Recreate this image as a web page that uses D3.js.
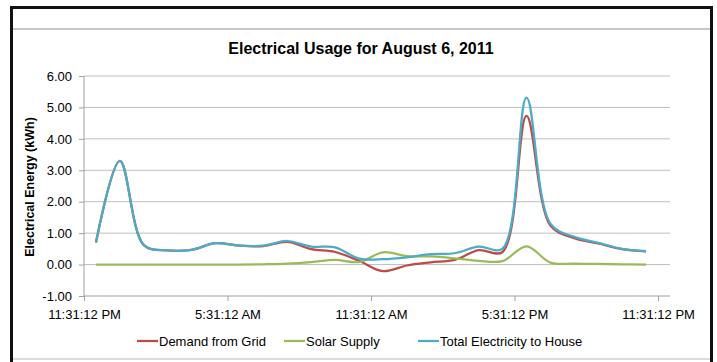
<!DOCTYPE html>
<html>
<head>
<meta charset="utf-8">
<script src="https://cdn.jsdelivr.net/npm/d3@7"></script>
<style>
  html, body { margin: 0; padding: 0; background: #fff; }
  svg { display: block; }
  text { font-family: "Liberation Sans", Arial, sans-serif; fill: #000; }
</style>
</head>
<body>
<svg id="chart" width="717" height="362"></svg>
<script>
// ---- data ----
const title = "Electrical Usage for August 6, 2011";
const yTitle = "Electrical Energy (kWh)";
// hours after 11:31:12 PM for each reading
const hourOffsets = [0.5, 1.5, 2.5, 3.5, 4.5, 5.5, 6.5, 7.5, 8.5, 9.5, 10.5, 11.5,
                     12.5, 13.5, 14.5, 15.5, 16.5, 17.5, 18.5, 19.5, 20.5, 21.5, 22.5, 23.5];
const demandFromGrid = [0.70, 3.30, 0.62, 0.45, 0.47, 0.68, 0.60, 0.59, 0.72, 0.49, 0.40, 0.12,
                        -0.21, -0.03, 0.07, 0.15, 0.46, 0.40, 4.73, 1.24, 0.84, 0.67, 0.49, 0.42];
const solarSupply = [0.00, 0.00, 0.00, 0.00, 0.00, 0.00, 0.00, 0.01, 0.03, 0.08, 0.15, 0.08,
                     0.39, 0.27, 0.26, 0.20, 0.12, 0.11, 0.58, 0.06, 0.03, 0.02, 0.01, 0.00];
const totalToHouse = [0.70, 3.30, 0.62, 0.45, 0.47, 0.68, 0.60, 0.60, 0.75, 0.57, 0.55, 0.19,
                      0.17, 0.23, 0.33, 0.36, 0.57, 0.51, 5.31, 1.30, 0.88, 0.69, 0.50, 0.43];
const xTickHours = [0, 6, 12, 18, 24];
const xTickLabels = ["11:31:12 PM", "5:31:12 AM", "11:31:12 AM", "5:31:12 PM", "11:31:12 PM"];
const yTicks = [-1, 0, 1, 2, 3, 4, 5, 6];
const seriesNames = ["Demand from Grid", "Solar Supply", "Total Electricity to House"];
const seriesColors = ["#BE4B48", "#9BBB59", "#4BACC6"];
const seriesData = [demandFromGrid, solarSupply, totalToHouse];

// ---- layout ----
const svg = d3.select("#chart");
const plot = { left: 84, right: 670, top: 76, bottom: 296 };

// frame
svg.append("rect").attr("x", 0).attr("y", 0).attr("width", 717).attr("height", 362).attr("fill", "#fff");
svg.append("line").attr("x1", 13).attr("x2", 710).attr("y1", 29).attr("y2", 29)
  .attr("stroke", "#c8c8c8").attr("stroke-width", 2);
svg.append("line").attr("x1", 13).attr("x2", 710).attr("y1", 359).attr("y2", 359)
  .attr("stroke", "#d0d0d0").attr("stroke-width", 1.5);
svg.append("path").attr("d", "M11.5,362 V7.5 H711.5 V362")
  .attr("fill", "none").attr("stroke", "#111").attr("stroke-width", 3);

const x = d3.scaleLinear().domain([0, 24.5]).range([plot.left, plot.right]);
const y = d3.scaleLinear().domain([-1, 6]).range([plot.bottom, plot.top]);

// gridlines
svg.append("g").selectAll("line").data(yTicks.filter(d => d !== -1)).join("line")
  .attr("x1", plot.left).attr("x2", plot.right)
  .attr("y1", d => y(d)).attr("y2", d => y(d))
  .attr("stroke", "#bfbfbf").attr("stroke-width", 1);

// y axis
const yAxis = d3.axisLeft(y).tickValues(yTicks).tickFormat(d3.format(".2f")).tickSize(5).tickPadding(7);
const gy = svg.append("g").attr("transform", `translate(${plot.left},0)`).call(yAxis);
gy.select(".domain").attr("stroke", "#a0a0a0").attr("d", `M0,${plot.top}V${plot.bottom}`);
gy.selectAll(".tick line").attr("stroke", "#a0a0a0");
gy.selectAll(".tick text").attr("font-size", 13).attr("fill", "#222")
  .attr("font-family", "Liberation Sans, Arial, sans-serif").text(d => d3.format(".2f")(d).replace("−", "-"));

// x axis
const xAxis = d3.axisBottom(x).tickValues(xTickHours).tickFormat((d, i) => xTickLabels[i]).tickSize(5).tickPadding(9);
const gx = svg.append("g").attr("transform", `translate(0,${plot.bottom})`).call(xAxis);
gx.select(".domain").attr("stroke", "#a0a0a0").attr("d", `M${plot.left},0H${plot.right}`);
gx.selectAll(".tick line").attr("stroke", "#a0a0a0");
gx.selectAll(".tick text").attr("font-size", 13).attr("fill", "#222")
  .attr("font-family", "Liberation Sans, Arial, sans-serif");

// title
svg.append("text").attr("x", 361).attr("y", 54).attr("text-anchor", "middle")
  .attr("font-size", 16).attr("font-weight", "bold").attr("fill", "#111").text(title);

// y title
svg.append("text").attr("transform", "translate(34,187) rotate(-90)").attr("text-anchor", "middle")
  .attr("font-size", 12.5).attr("font-weight", "bold").text(yTitle);

// lines
const line = d3.line().x((d, i) => x(hourOffsets[i])).y(d => y(d)).curve(d3.curveCatmullRom.alpha(0.5));
seriesData.forEach((s, k) => {
  svg.append("path").datum(s).attr("d", line)
    .attr("fill", "none").attr("stroke", seriesColors[k]).attr("stroke-width", 2.25)
    .attr("stroke-linejoin", "round");
});

// legend
const legendX = [137, 284, 418];
const lg = svg.append("g");
seriesNames.forEach((n, k) => {
  lg.append("line").attr("x1", legendX[k]).attr("x2", legendX[k] + 21)
    .attr("y1", 341).attr("y2", 341).attr("stroke", seriesColors[k]).attr("stroke-width", 2.25);
  lg.append("text").attr("x", legendX[k] + 22).attr("y", 345.5).attr("font-size", 13)
    .attr("fill", "#222").text(n);
});
</script>
</body>
</html>
